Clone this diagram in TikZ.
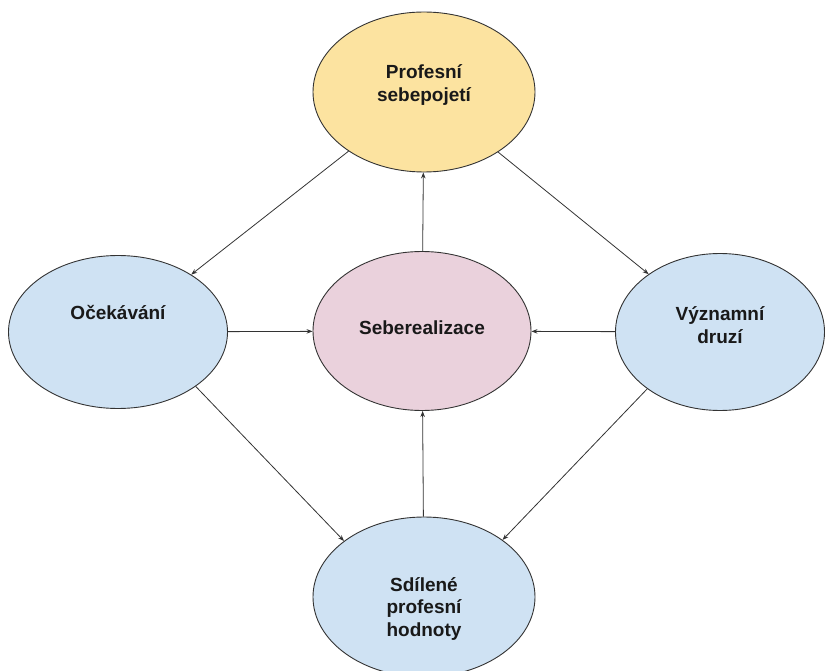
\documentclass[tikz,border=0pt]{standalone}
\usepackage{fontspec}
\setmainfont{Liberation Sans}
\usetikzlibrary{shapes.geometric,arrows.meta}
\definecolor{cyellow}{HTML}{FCE3A0}
\definecolor{cpink}{HTML}{EAD1DC}
\definecolor{cblue}{HTML}{CFE2F3}
\definecolor{cline}{HTML}{333333}
\begin{document}
\begin{tikzpicture}[x=1pt,y=-1pt,
  ell/.style={ellipse,draw=cline,line width=0.9pt,inner sep=0pt},
  txt/.style={align=center,font=\fontsize{19}{22.5}\selectfont\bfseries,text=black!90},
  conn/.style={draw=cline,line width=0.8pt,-{Stealth[length=6pt,width=4.5pt]}}]
\useasboundingbox (0,0) rectangle (825,671);
\node[ell,fill=cyellow,minimum width=222pt,minimum height=160pt] (T) at (424,92) {};
\node[ell,fill=cblue,minimum width=219pt,minimum height=153pt] (L) at (118,332) {};
\node[ell,fill=cpink,minimum width=218pt,minimum height=159pt] (C) at (422,331) {};
\node[ell,fill=cblue,minimum width=209pt,minimum height=157pt] (R) at (720,332) {};
\node[ell,fill=cblue,minimum width=222pt,minimum height=160pt] (B) at (424,597) {};
\node[txt] (Tt) at (424,85) {Profesní\\sebepojetí};
\node[txt] (Lt) at (118,313) {Očekávání};
\node[txt] (Ct) at (422,328) {Seberealizace};
\node[txt] (Rt) at (720,325) {Významní\\druzí};
\node[txt] (Bt) at (424,609) {Sdílené\\profesní\\hodnoty};
\draw[conn] (T) -- (L);
\draw[conn] (T) -- (R);
\draw[conn] (C) -- (T);
\draw[conn] (L) -- (C);
\draw[conn] (R) -- (C);
\draw[conn] (B) -- (C);
\draw[conn] (L.-35) -- (B.145);
\draw[conn] (R.-142) -- (B.36);
\end{tikzpicture}
\end{document}
